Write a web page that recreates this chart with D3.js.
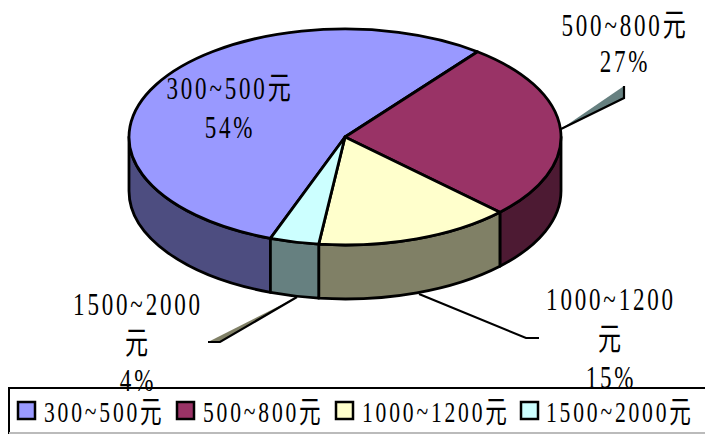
<!DOCTYPE html>
<html><head><meta charset="utf-8">
<script src="https://cdn.jsdelivr.net/npm/d3@7"></script>
<style>html,body{margin:0;padding:0;background:#fff}svg{display:block}
text{font-family:"Liberation Serif","Noto Sans CJK TC",serif;fill:#000}</style>
</head><body><svg id="c" width="705" height="434"></svg>
<script>
const categories=["300~500元","500~800元","1000~1200元","1500~2000元"];
const shares=[54.9,26.76,14.67,3.67];
const percentLabels=["54%","27%","15%","4%"];
const topColors=["#9999FF","#993366","#FFFFCC","#CCFFFF"];
const sideColors=["#4D4D80","#4D1A33","#808066","#668080"];

const svg=d3.select("#c");
const cx=345,cy=137,rx=216,ry=108,depth=54;
const start=200.2*Math.PI/180;
const arcs=d3.pie().sort(null).value(d=>d).startAngle(start).endAngle(start+2*Math.PI)(shares);
const px=a=>cx+rx*Math.sin(a), py=a=>cy-ry*Math.cos(a);

const fmin=Math.PI/2,fmax=3*Math.PI/2;
const side=svg.append("g");
arcs.forEach((d,i)=>{
  [0,2*Math.PI].forEach(off=>{
    const a0=Math.max(d.startAngle-off,fmin),a1=Math.min(d.endAngle-off,fmax);
    if(a1<=a0)return;
    const p=`M${px(a0)},${py(a0)}A${rx},${ry} 0 0 1 ${px(a1)},${py(a1)}L${px(a1)},${py(a1)+depth}A${rx},${ry} 0 0 0 ${px(a0)},${py(a0)+depth}Z`;
    side.append("path").attr("d",p).attr("fill",sideColors[i]).attr("stroke","#000").attr("stroke-width",2.8).attr("stroke-linejoin","round");
  });
});
const arc=d3.arc().innerRadius(0).outerRadius(ry);
svg.append("g").attr("transform",`translate(${cx},${cy}) scale(${rx/ry},1)`)
  .selectAll("path").data(arcs).join("path")
  .attr("d",arc).attr("fill",(d,i)=>topColors[i])
  .attr("stroke","#000").attr("stroke-width",2.8).attr("vector-effect","non-scaling-stroke").attr("stroke-linejoin","round");

const leaders=svg.append("g").attr("stroke","#000").attr("stroke-width",2.2).attr("stroke-linejoin","miter");
leaders.append("path").attr("d","M561,129L624,86L624,98Z").attr("fill","#668080").attr("stroke","none");
leaders.append("path").attr("d","M561,129L624,98L624,86").attr("fill","none");
leaders.append("path").attr("d","M419,294L526,338L539,338").attr("fill","none");
leaders.append("path").attr("d","M297,297L220,342L208,342L297,297Z").attr("fill","#808066").attr("stroke","none");
leaders.append("path").attr("d","M297,297L220,342L208,342").attr("fill","none");

function lab(x,y,s){
  svg.append("text").attr("transform",`translate(${x+1},${y}) scale(0.72,1)`)
    .attr("text-anchor","middle").attr("font-size",32).attr("letter-spacing",3.9).text(s);
}
const head=s=>s.slice(0,-1);
lab(229,99,categories[0]); lab(229,138,percentLabels[0]);
lab(624,36,categories[1]); lab(624,72,percentLabels[1]);
lab(610,310,head(categories[2])); lab(610,350,"元"); lab(610,388,percentLabels[2]);
lab(137,315,head(categories[3])); lab(137,354,"元"); lab(137,391,percentLabels[3]);

const lg=svg.append("g");
lg.append("rect").attr("x",9).attr("y",388).attr("width",720).attr("height",45).attr("fill","#fff").attr("fill-opacity",0).attr("stroke","#000").attr("stroke-width",2);
lg.append("line").attr("x1",9).attr("x2",705).attr("y1",433).attr("y2",433).attr("stroke","#bbb").attr("stroke-width",2);
const swX=[18,177,336,521],txX=[44,203,362,546];
categories.forEach((c,i)=>{
  lg.append("rect").attr("x",swX[i]).attr("y",402).attr("width",17).attr("height",17).attr("fill",topColors[i]).attr("stroke","#000").attr("stroke-width",2.5);
  svg.append("text").attr("transform",`translate(${txX[i]},422) scale(0.72,1)`).attr("font-size",30).attr("letter-spacing",3.9).text(c);
});
</script></body></html>
